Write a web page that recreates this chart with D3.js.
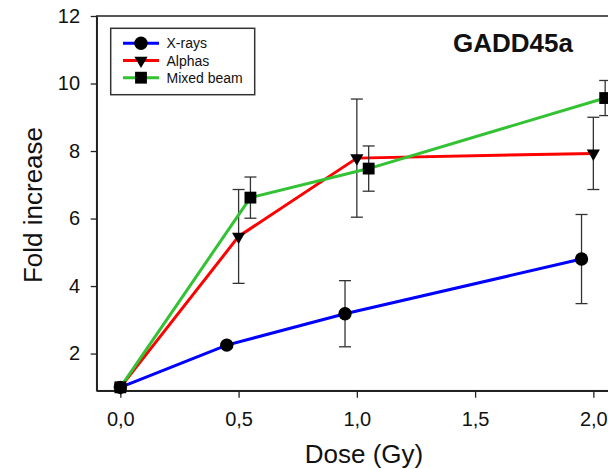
<!DOCTYPE html>
<html>
<head>
<meta charset="utf-8">
<script src="https://cdn.jsdelivr.net/npm/d3@7"></script>
<style>
  body { margin: 0; background: #fff; }
  text { font-family: "Liberation Sans", Arial, sans-serif; }
</style>
</head>
<body>
<div id="chart"></div>
<script>
// data
const seriesNames = ["X-rays", "Alphas", "Mixed beam"];
const xraysDose = [0, 0.45, 0.95, 1.95];
const xraysFold = [1.0, 2.25, 3.18, 4.80];
const xraysErr = [0.05, 0.0, 0.98, 1.32];
const alphasDose = [0, 0.5, 1.0, 2.0];
const alphasFold = [1.0, 5.47, 7.79, 7.93];
const alphasErr = [0.05, 1.39, 1.75, 1.07];
const mixedDose = [0, 0.55, 1.05, 2.05];
const mixedFold = [1.0, 6.62, 7.48, 9.57];
const mixedErr = [0.05, 0.61, 0.67, 0.52];
const yTicks = [2, 4, 6, 8, 10, 12];
const xTicks = [0, 0.5, 1.0, 1.5, 2.0];

const colors = ["#0000ff", "#ff0000", "#33c233"];
const shapes = [d3.symbolCircle, d3.symbolTriangle, d3.symbolSquare];

const series = [
    { name: seriesNames[0], dose: xraysDose, fold: xraysFold, err: xraysErr },
    { name: seriesNames[1], dose: alphasDose, fold: alphasFold, err: alphasErr },
    { name: seriesNames[2], dose: mixedDose, fold: mixedFold, err: mixedErr }
];

var W = 608, H = 469;
var margin = { top: 16, left: 96.7 },
    width = 520.3,
    height = 374.7;

var svg = d3.select("#chart")
    .append("svg")
    .attr("width", W)
    .attr("height", H);

var g = svg.append("g")
    .attr("transform", "translate(" + margin.left + "," + margin.top + ")");

let x = d3.scaleLinear().domain([-0.1, 2.1]).range([0, width]);
let y = d3.scaleLinear().domain([0.9, 12]).range([height, 0]);

// frame (top + right)
g.append("rect")
    .attr("width", width)
    .attr("height", height)
    .style("fill", "none")
    .style("stroke", "#222")
    .style("stroke-width", 1.5);

// axes
let yAxis = g.append("g")
    .call(d3.axisLeft(y).tickValues(yTicks).tickSize(6).tickSizeOuter(0).tickPadding(10.7));
let xAxis = g.append("g")
    .attr("transform", "translate(0," + height + ")")
    .call(d3.axisBottom(x).tickValues(xTicks).tickSize(7).tickSizeOuter(0).tickPadding(14)
        .tickFormat(d => d3.format(".1f")(d).replace(".", ",")));

[xAxis, yAxis].forEach(a => {
    a.selectAll("path").style("stroke", "#222").style("stroke-width", 1.5);
    a.selectAll("line").style("stroke", "#222").style("stroke-width", 1.3);
    a.selectAll("text")
        .style("font-family", '"Liberation Sans", Arial, sans-serif')
        .style("font-size", "20px")
        .style("fill", "#111");
});

// axis titles
svg.append("text")
    .attr("x", 364)
    .attr("y", 463)
    .attr("text-anchor", "middle")
    .style("font-size", "26px")
    .style("fill", "#111")
    .text("Dose (Gy)");

svg.append("text")
    .attr("transform", "translate(41.5,205) rotate(-90)")
    .attr("text-anchor", "middle")
    .style("font-size", "26px")
    .style("fill", "#111")
    .text("Fold increase");

// title
svg.append("text")
    .attr("x", 453)
    .attr("y", 52)
    .style("font-size", "26px")
    .style("font-weight", "bold")
    .style("fill", "#111")
    .text("GADD45a");

let symbolFor = (i) => {
    let s = i == 0 ? 140 : (i == 1 ? 75 : 140);
    return d3.symbol().type(shapes[i]).size(s);
};

let line = d3.line();

series.forEach((s, i) => {
    let pts = s.dose.map((d, k) => [x(d), y(s.fold[k])]);
    let sg = g.append("g");
    // error bars
    s.dose.forEach((d, k) => {
        if (s.err[k] <= 0) return;
        let cx = x(d), y1 = y(s.fold[k] + s.err[k]), y2 = y(s.fold[k] - s.err[k]);
        sg.append("line").attr("x1", cx).attr("x2", cx).attr("y1", y1).attr("y2", y2)
            .style("stroke", "#333").style("stroke-width", 1.3);
        [y1, y2].forEach(yy => {
            sg.append("line").attr("x1", cx - 6).attr("x2", cx + 6).attr("y1", yy).attr("y2", yy)
                .style("stroke", "#333").style("stroke-width", 1.3);
        });
    });
    sg.append("path")
        .attr("d", line(pts))
        .style("fill", "none")
        .style("stroke", colors[i])
        .style("stroke-width", 3);
    sg.selectAll("marker" + i)
        .data(pts)
        .enter()
        .append("path")
        .attr("d", symbolFor(i))
        .attr("transform", p => "translate(" + p[0] + "," + p[1] + ")" + (i == 1 ? " rotate(180)" : ""))
        .style("fill", "#000");
});

// legend
let lg = svg.append("g");
lg.append("rect")
    .attr("x", 110.7).attr("y", 28.3)
    .attr("width", 144).attr("height", 66.4)
    .style("fill", "#fff")
    .style("stroke", "#333")
    .style("stroke-width", 1.5);

let legendY = [43.3, 60.5, 77.7];
series.forEach((s, i) => {
    lg.append("line")
        .attr("x1", 123).attr("x2", 159)
        .attr("y1", legendY[i]).attr("y2", legendY[i])
        .style("stroke", colors[i])
        .style("stroke-width", 3);
    lg.append("path")
        .attr("d", symbolFor(i))
        .attr("transform", "translate(141," + legendY[i] + ")" + (i == 1 ? " rotate(180)" : ""))
        .style("fill", "#000");
    lg.append("text")
        .attr("x", 166.5)
        .attr("y", legendY[i] + 5)
        .style("font-size", "14px")
        .style("fill", "#111")
        .text(s.name);
});
</script>
</body>
</html>
